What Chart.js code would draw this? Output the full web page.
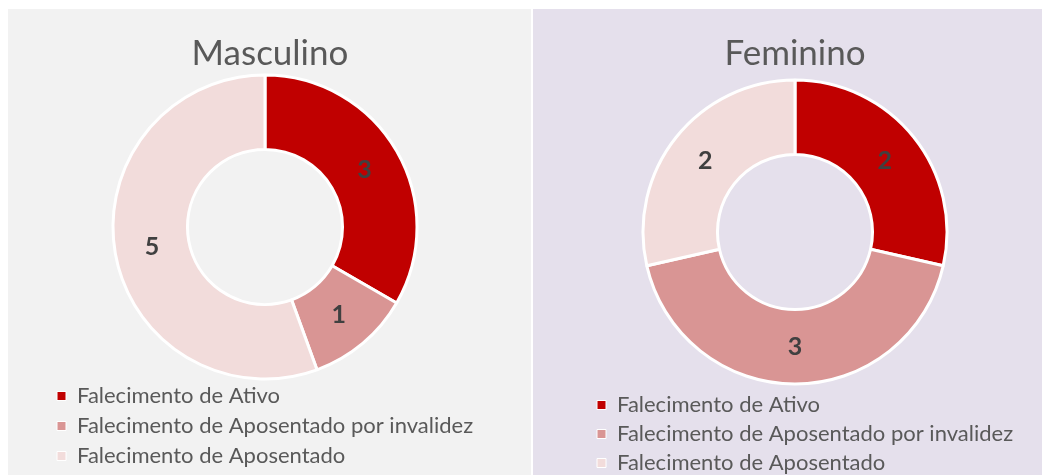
<!DOCTYPE html>
<html>
<head>
<meta charset="utf-8">
<script src="https://cdn.jsdelivr.net/npm/chart.js@4.4.0/dist/chart.umd.min.js"></script>
<style>
  body { margin: 0; background: #ffffff; overflow: hidden; width: 1042px; height: 475px; position: relative; }
  .painel { position: absolute; top: 9px; height: 466px; overflow: hidden; }
  #painelMasc { left: 8px; width: 523px; background: #f2f2f2; }
  #painelFem { left: 533px; width: 509px; background: #e5e0ec; }
  canvas { position: absolute; left: 0; top: 0; }
</style>
</head>
<body>
<div class="painel" id="painelMasc"><canvas id="graficaMasc" width="523" height="468"></canvas></div>
<div class="painel" id="painelFem"><canvas id="graficaFem" width="509" height="475"></canvas></div>
<script>
const categorias = [
  "Falecimento de Ativo",
  "Falecimento de Aposentado por invalidez",
  "Falecimento de Aposentado",
];
const valoresMasculino = [3, 1, 5];
const valoresFeminino = [2, 3, 2];
const cores = ["#c00000", "#d99594", "#f2dcdb"];
const fonte = "Lato, 'Open Sans', sans-serif";

// etiquetas dentro de cada fatia
const etiquetasPlugin = {
  id: "etiquetas",
  afterDatasetsDraw(chart) {
    const ctx = chart.ctx;
    const meta = chart.getDatasetMeta(0);
    ctx.save();
    ctx.font = "bold 25px " + fonte;
    ctx.fillStyle = "#404040";
    ctx.textAlign = "center";
    ctx.textBaseline = "middle";
    meta.data.forEach((arc, i) => {
      const p = arc.getCenterPoint();
      ctx.fillText(chart.data.datasets[0].data[i], p.x, p.y);
    });
    ctx.restore();
  },
};

// deja que la leyenda use todo el ancho y mueve el titulo un poco
const ajustePlugin = {
  id: "ajuste",
  afterLayout(chart, args, opts) {
    chart.legend.right = chart.width;
    chart.titleBlock.left += opts.titulo || 0;
    chart.titleBlock.right += opts.titulo || 0;
  },
};

function crearDona(idCanvas, titulo, valores, padL, padR, legPad, movTitulo) {
  const grafica = document.getElementById(idCanvas).getContext("2d");
  return new Chart(grafica, {
    type: "doughnut",
    data: {
      labels: categorias,
      datasets: [
        {
          data: valores,
          backgroundColor: cores,
          borderColor: "#ffffff",
          borderWidth: 3,
        },
      ],
    },
    options: {
      responsive: false,
      animation: false,
      devicePixelRatio: 1,
      radius: 152,
      cutout: "51%",
      layout: { padding: { left: padL, right: padR, top: 0, bottom: 0 } },
      plugins: {
        tooltip: { enabled: false },
        ajuste: { titulo: movTitulo },
        title: {
          display: true,
          text: titulo,
          color: "#595959",
          font: { family: fonte, size: 35, weight: "normal" },
          padding: { top: 24, bottom: 2 },
        },
        legend: {
          position: "bottom",
          align: "start",
          labels: {
            color: "#595959",
            font: { family: fonte, size: 22 },
            boxWidth: 9,
            boxHeight: 9,
            padding: legPad,
            generateLabels(chart) {
              const itens = Chart.overrides.doughnut.plugins.legend.labels.generateLabels(chart);
              itens.forEach((it) => { it.lineWidth = 1; it.strokeStyle = "#ffffff"; });
              return itens;
            },
          },
        },
      },
    },
    plugins: [etiquetasPlugin, ajustePlugin],
  });
}

crearDona("graficaMasc", "Masculino", valoresMasculino, 41, 50, 8, 5);
crearDona("graficaFem", "Feminino", valoresFeminino, 57, 42, 7, 0);
</script>
</body>
</html>
